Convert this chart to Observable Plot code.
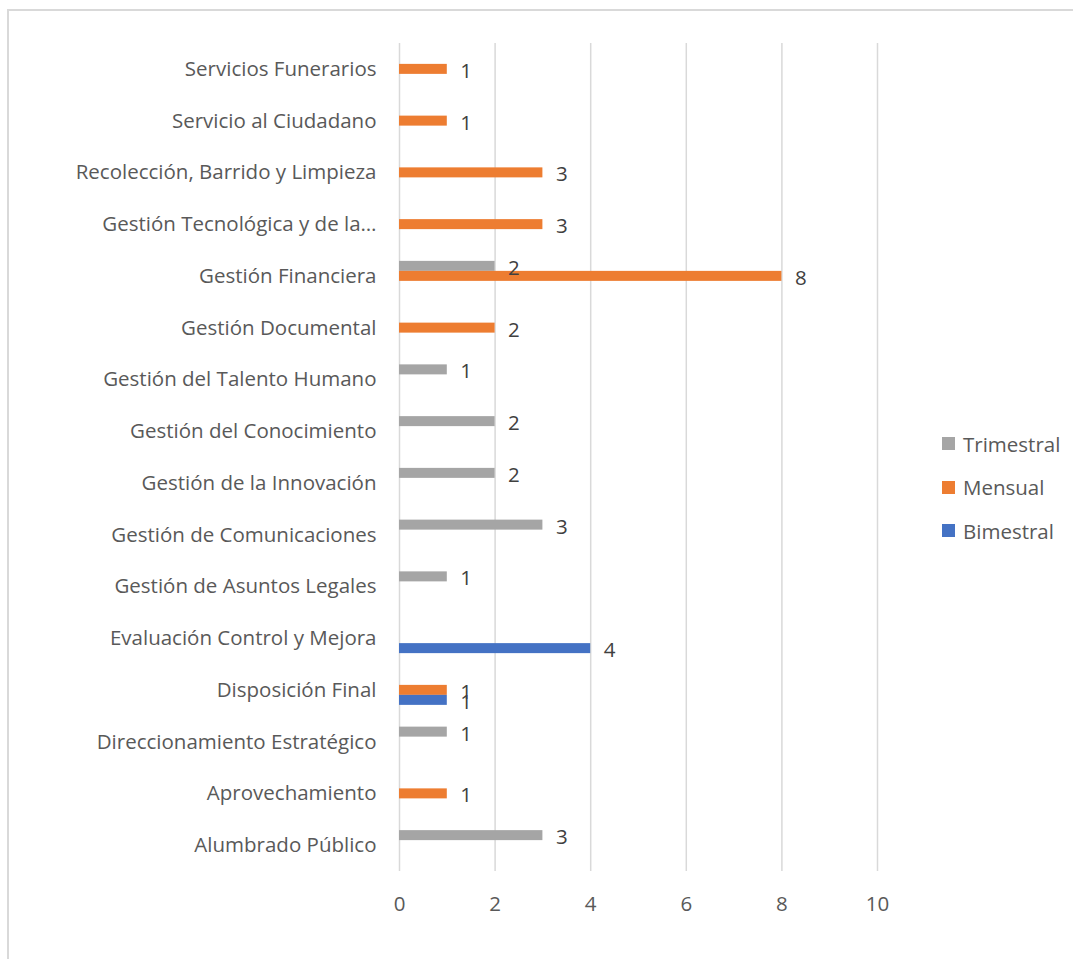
<!DOCTYPE html>
<html><head><meta charset="utf-8">
<script src="https://cdn.jsdelivr.net/npm/d3@7"></script>
<script src="https://cdn.jsdelivr.net/npm/@observablehq/plot@0.6"></script>
<style>
body{margin:0;background:#fff;}
#wrap{position:relative;width:1073px;height:959px;overflow:hidden;background:#fff;}
#frame{position:absolute;left:7px;top:9px;width:1100px;height:1000px;border:2px solid #d9d9d9;box-sizing:border-box;}
#chart{position:absolute;left:0;top:0;}
#legend{position:absolute;left:942px;top:422px;font-family:"Open Sans",sans-serif;font-size:20.5px;color:#595959;}
.item{display:flex;align-items:center;height:43.5px;}
.sw{width:13px;height:13px;margin-right:8px;}
</style></head>
<body>
<div id="wrap"><div id="frame"></div><div id="chart"></div><div id="legend"></div></div>
<script>
const categories = [
  "Servicios Funerarios",
  "Servicio al Ciudadano",
  "Recolección, Barrido y Limpieza",
  "Gestión Tecnológica y de la…",
  "Gestión Financiera",
  "Gestión Documental",
  "Gestión del Talento Humano",
  "Gestión del Conocimiento",
  "Gestión de la Innovación",
  "Gestión de Comunicaciones",
  "Gestión de Asuntos Legales",
  "Evaluación Control y Mejora",
  "Disposición Final",
  "Direccionamiento Estratégico",
  "Aprovechamiento",
  "Alumbrado Público"
];
const trimestral = [null,null,null,null,2,null,1,2,2,3,1,null,null,1,null,3];
const mensual    = [1,1,3,3,8,2,null,null,null,null,null,null,1,null,1,null];
const bimestral  = [null,null,null,null,null,null,null,null,null,null,null,4,1,null,null,null];
const seriesNames = ["Trimestral","Mensual","Bimestral"];
const seriesColors = ["#a5a5a5","#ed7d31","#4472c4"];
const xTicks = [0,2,4,6,8,10];

const seriesValues = [trimestral, mensual, bimestral];
const rows = [];
seriesValues.forEach((vals, s) => vals.forEach((v, i) => {
  if (v != null) rows.push({category: categories[i], series: seriesNames[s], value: v});
}));

const band = (871 - 43) / categories.length;
const thick = 10;
const base = (band - thick) / 2;
const offsets = [-10, 0, 10];

const marks = [Plot.ruleX(xTicks, {stroke: "#d9d9d9", strokeWidth: 1.5})];
seriesNames.forEach((name, s) => {
  const data = rows.filter(d => d.series === name);
  marks.push(Plot.barX(data, {
    x: "value", y: "category", fill: seriesColors[s],
    insetTop: base + offsets[s], insetBottom: base - offsets[s]
  }));
});
seriesNames.forEach((name, s) => {
  const data = rows.filter(d => d.series === name);
  marks.push(Plot.text(data, {
    x: "value", y: "category", text: d => String(d.value),
    dx: 13, dy: offsets[s] + 2, textAnchor: "start", fill: "#404040", fontSize: 20.5
  }));
});

const chart = Plot.plot({
  width: 1073, height: 959,
  marginTop: 43, marginBottom: 88, marginLeft: 399, marginRight: 196,
  style: {fontFamily: "'Open Sans', sans-serif", fontSize: "20.5px", color: "#595959", background: "transparent"},
  x: {domain: [0, 10], ticks: xTicks, tickSize: 0, tickPadding: 25, label: null},
  y: {domain: categories, padding: 0, round: false, tickSize: 0, tickPadding: 23, label: null},
  marks
});
document.getElementById("chart").appendChild(chart);

const legend = document.getElementById("legend");
seriesNames.forEach((name, s) => {
  const it = document.createElement("div");
  it.className = "item";
  const sw = document.createElement("div");
  sw.className = "sw"; sw.style.background = seriesColors[s];
  const t = document.createElement("span"); t.textContent = name;
  it.appendChild(sw); it.appendChild(t);
  legend.appendChild(it);
});
</script>
</body></html>
